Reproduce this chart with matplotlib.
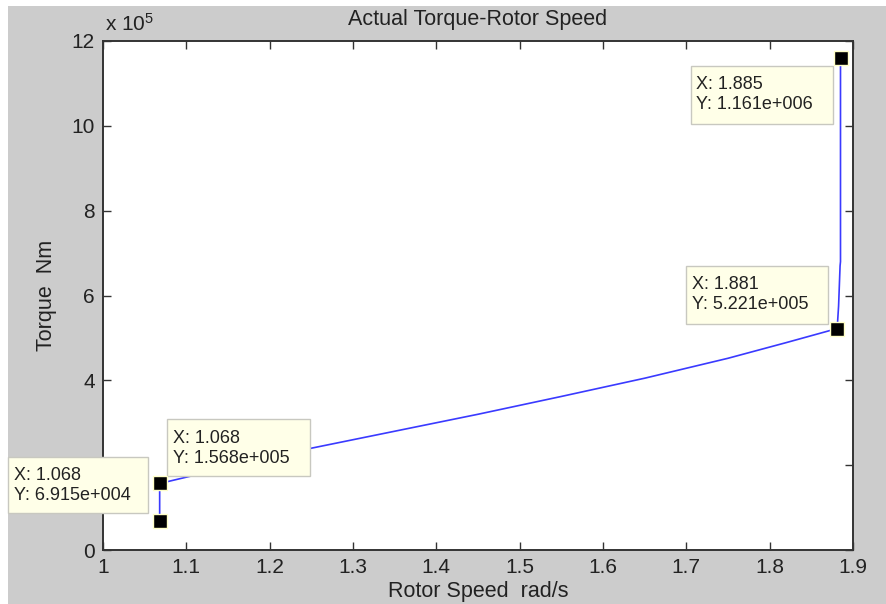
import matplotlib
matplotlib.use("Agg")
import matplotlib.pyplot as plt
import matplotlib.transforms as mtransforms
from matplotlib.patches import Rectangle
from matplotlib.ticker import FuncFormatter

plt.rcParams["font.family"] = ["Liberation Sans", "DejaVu Sans"]
plt.rcParams["mathtext.fontset"] = "custom"
plt.rcParams["mathtext.rm"] = "Liberation Sans"
plt.rcParams["mathtext.default"] = "regular"

# torque-speed trace (rad/s, Nm)
speed = [1.068, 1.068, 1.15, 1.25, 1.35, 1.45, 1.55, 1.65, 1.75, 1.82, 1.881,
         1.8827, 1.8845, 1.885, 1.885]
torque = [6.915e4, 1.568e5, 1.95e5, 2.40e5, 2.80e5, 3.20e5, 3.62e5, 4.05e5, 4.52e5, 4.89e5, 5.221e5,
          5.75e5, 6.70e5, 6.80e5, 1.161e6]

# data cursor points
tip_speed = [1.068, 1.068, 1.881, 1.885]
tip_torque = [6.915e4, 1.568e5, 5.221e5, 1.161e6]
# box placement in pixels relative to each point: (dx, dy, width, height)
tip_box = [(-152, 8, 140, 56), (7, 7, 143, 57), (-151, 5, 142, 58), (-150, -66, 142, 58)]

xticks = [1.0, 1.1, 1.2, 1.3, 1.4, 1.5, 1.6, 1.7, 1.8, 1.9]
yticks = [0, 2e5, 4e5, 6e5, 8e5, 10e5, 12e5]

TEXT = "#222222"
GRAY = "#cccccc"


def matlab_num(v):
    # MATLAB-style 3-digit exponent, e.g. 1.161e+006
    mant, exp = f"{v:.3e}".split("e")
    return f"{mant}e{exp[0]}{int(exp[1:]):03d}"


fig = plt.figure(figsize=(8.87, 6.04), dpi=100)
fig.patch.set_facecolor("white")
fig.patches.append(Rectangle((8 / 887, 0), 1, (604 - 6) / 604, transform=fig.transFigure,
                             facecolor=GRAY, edgecolor="none", zorder=-10))

ax = fig.add_axes([103 / 887, 54 / 604, 750 / 887, 509 / 604])
ax.set_facecolor("white")

ax.plot(speed, torque, color="#3a3aff", linewidth=1.2, zorder=2)

for x, y, (dx, dy, w, h) in zip(tip_speed, tip_torque, tip_box):
    trans = mtransforms.Affine2D().translate(dx, dy) + mtransforms.ScaledTranslation(x, y, ax.transData)
    ax.add_patch(Rectangle((0, 0), w, h, transform=trans, facecolor="#ffffe8",
                           edgecolor="#c8c8c0", linewidth=1.0, clip_on=False, zorder=5))
    ax.text(6, h - 19, f"X: {x:.4g}", transform=trans, ha="left", va="center",
            fontsize=13, color=TEXT, clip_on=False, zorder=6)
    ax.text(6, h - 39, f"Y: {matlab_num(y)}", transform=trans, ha="left", va="center",
            fontsize=13, color=TEXT, clip_on=False, zorder=6)
    ax.plot([x], [y], marker="s", markersize=10, markerfacecolor="black",
            markeredgecolor="#ffffc8", markeredgewidth=1.0, linestyle="none",
            clip_on=False, zorder=7)

ax.set_xlim(1.0, 1.9)
ax.set_ylim(0, 12e5)
ax.set_xticks(xticks)
ax.set_yticks(yticks)
ax.xaxis.set_major_formatter(FuncFormatter(lambda v, p: f"{v:g}"))
ax.yaxis.set_major_formatter(FuncFormatter(lambda v, p: f"{v / 1e5:g}"))

ax.tick_params(direction="in", top=True, right=True, length=6, width=1.0,
               color="#333333", labelsize=15, labelcolor=TEXT, pad=6)
for sp in ax.spines.values():
    sp.set_linewidth(1.4)
    sp.set_color("#333333")

ax.set_xlabel("Rotor Speed  rad/s", fontsize=15.5, color=TEXT, va="center")
ax.xaxis.set_label_coords(0.5, -42 / 509)
ax.set_ylabel("Torque  Nm", fontsize=15.5, color=TEXT, va="center")
ax.yaxis.set_label_coords(-56 / 750, 0.5)
ax.set_title("Actual Torque-Rotor Speed", fontsize=15.5, color=TEXT, y=530 / 509, va="center", pad=0)
ax.text(0.003, 526 / 509, r"x 10$^{5}$", transform=ax.transAxes, ha="left", va="center",
        fontsize=15, color=TEXT)

fig.savefig("out.png", dpi=100, facecolor=fig.get_facecolor())
